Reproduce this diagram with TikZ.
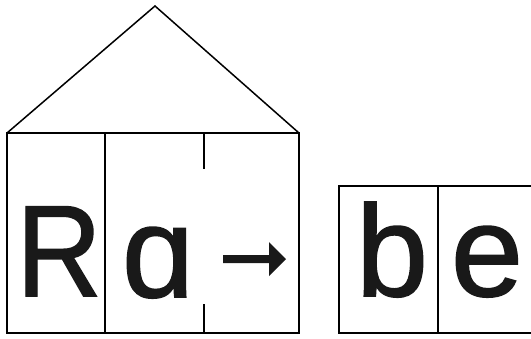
\documentclass[tikz,border=0pt]{standalone}
\usepackage{fontspec}
\usepackage{graphicx}
\setmainfont{Liberation Sans}
\newfontfamily\glyphfont[FakeBold=1.2]{Liberation Sans}
\begin{document}
\begin{tikzpicture}[x=1pt,y=-1pt,
  wall/.style={line width=1.5pt,line join=miter},
  glyph/.style={inner sep=0pt,anchor=base,font=\glyphfont\fontsize{130}{130}\selectfont,text=black!90}]
\useasboundingbox (0,0) rectangle (531,338);
\clip (0,0) rectangle (531,338);
% house
\coordinate (apex) at (155,6);
\draw[wall] (7,133) rectangle (299,333);
\draw[wall] (7,133) -- (apex) -- (299,133);
\draw[wall] (105,133) -- (105,333);
\draw[wall] (204,133) -- (204,169);
\draw[wall] (204,304) -- (204,333);
% right box
\draw[wall] (339,186) rectangle (560,333);
\draw[wall] (438,186) -- (438,333);
% letters
\node[glyph] (R) at (59,296) {\scalebox{0.91}[1]{R}};
\node[glyph] (A) at (158,297) {ɑ};
\node[glyph] (B) at (392,296) {b};
\node[glyph] (E) at (487,296) {e};
% arrow
\fill[black!90] (223,255) -- (269,255) -- (269,242) -- (286,259) -- (269,276) -- (269,263) -- (223,263) -- cycle;
\end{tikzpicture}
\end{document}
